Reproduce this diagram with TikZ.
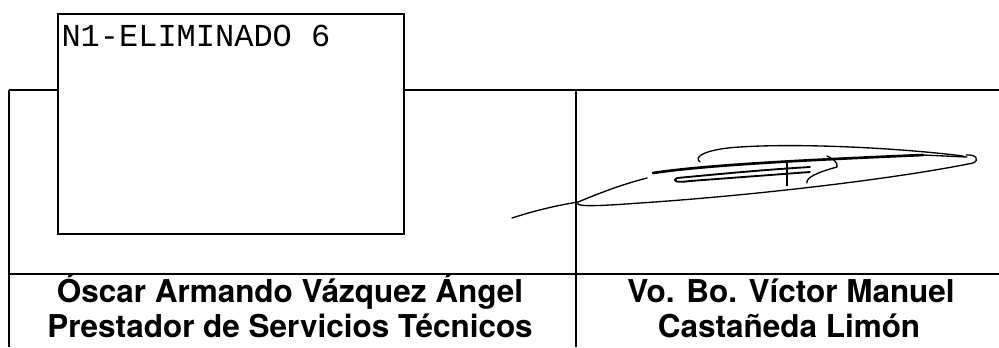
\documentclass[tikz,border=0pt]{standalone}
\usepackage{fontspec}
\setmainfont{TeX Gyre Heros}
\newfontfamily\boxmono{Liberation Mono}
\tikzset{every picture/.style={line width=0.75pt}}
\tikzset{
  tabla/.style={line width=1pt},
  firma/.style={line width=1pt, line cap=round, line join=round},
  firmagruesa/.style={line width=2pt, line cap=round},
  nombre/.style={anchor=base, inner sep=0pt, font=\fontsize{23.6}{28}\selectfont\bfseries}
}

\begin{document}
\begin{tikzpicture}[x=0.75pt,y=0.75pt,yscale=-1,xscale=1]
\useasboundingbox (0,0) rectangle (999,347);

%Straight Lines [id:tabla_izq]
\draw [tabla]   (9,90) -- (9,347) ;
%Straight Lines [id:tabla_arriba]
\draw [tabla]   (9,90) -- (60,90) (402,90) -- (999,90) ;
%Straight Lines [id:tabla_medio]
\draw [tabla]   (576,90) -- (576,347) ;
%Straight Lines [id:tabla_abajo]
\draw [tabla]   (9,274) -- (999,274) ;

%Shape: Rectangle [id:recuadro]
\draw [line width=1.5pt, fill=white]  (58,14) rectangle (404,234) ;

%Curve Lines [id:firma_cola]
\draw [firma]   (512,218) .. controls (540,209) and (560,205) .. (578,202) .. controls (600,193) and (620,185) .. (647,178) ;
%Curve Lines [id:firma_abajo]
\draw [firma]   (578,203) .. controls (575,207) and (600,206) .. (640,203) .. controls (760,195) and (900,178) .. (973,163) .. controls (980,160) and (976,154) .. (966,155) ;
%Curve Lines [id:firma_arco]
\draw [firma]   (700,162) .. controls (693,157) and (705,149) .. (740,147) .. controls (800,143) and (900,148) .. (963,156) ;
%Curve Lines [id:firma_trazo]
\draw [firmagruesa]   (653,173) .. controls (700,166) and (780,161) .. (923,155) ;
\draw [firma]   (923,155) -- (967,157) ;
%Curve Lines [id:firma_doble]
\draw [line width=1.4pt, line cap=round]   (677,178) .. controls (720,174) and (760,170) .. (810,167) ;
\draw [line width=1.4pt, line cap=round]   (677,178) .. controls (672,181) and (676,183) .. (690,181) .. controls (730,178) and (770,175) .. (810,172) ;
%Straight Lines [id:firma_palo]
\draw [line width=1.4pt]   (787,163) -- (787,186) ;
%Curve Lines [id:firma_gancho]
\draw [firma]   (807,183) .. controls (806,178) and (815,173) .. (837,167) .. controls (838,162) and (833,159) .. (827,156) ;

% Text Node
\draw (61,46) node [anchor=base west, inner sep=0pt, font=\boxmono\fontsize{24}{28}\selectfont] (eliminado) {N1-ELIMINADO 6};
% Text Node
\draw (290,302) node [nombre] (oscar) {Óscar Armando Vázquez Ángel};
% Text Node
\draw (290,337) node [nombre] (cargo) {Prestador de Servicios Técnicos};
% Text Node
\draw (791,302) node [nombre] (vobo) {Vo. Bo. Víctor Manuel};
% Text Node
\draw (789,337) node [nombre] (castaneda) {Castañeda Limón};

\end{tikzpicture}
\end{document}
